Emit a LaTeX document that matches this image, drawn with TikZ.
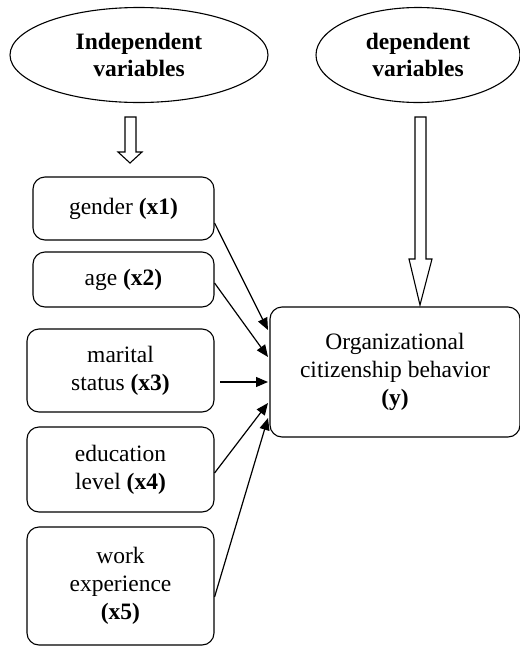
\documentclass[tikz,border=0pt]{standalone}
\usepackage{fontspec}
\setmainfont{Liberation Serif}
\usetikzlibrary{shapes.geometric,arrows.meta}
\begin{document}
\begin{tikzpicture}[x=1pt,y=-1pt,
  txt/.style={font=\fontsize{23.5}{28}\selectfont, align=center},
  oval/.style={draw, line width=1.1pt, ellipse, txt, font=\fontsize{23.5}{27}\selectfont\bfseries},
  rbox/.style={draw, line width=1.1pt, rounded corners=12pt, txt},
  link/.style={line width=1.2pt, -{Triangle[length=12pt,width=10pt]}},
  hollow/.style={draw, line width=1.1pt, fill=white, line join=miter}]
\useasboundingbox (0,0) rectangle (520,646);
\node[oval, minimum width=258pt, minimum height=95pt] (indep) at (139,55) {Independent\\variables};
\node[oval, minimum width=204pt, minimum height=95pt] (dep) at (418,55) {dependent\\variables};
% boxes
\node[rbox, minimum width=181pt, minimum height=63pt] (x1) at (123.5,208.5) {gender \textbf{(x1)}};
\node[rbox, minimum width=181pt, minimum height=55pt] (x2) at (123.5,279.5) {age \textbf{(x2)}};
\node[rbox, minimum width=187pt, minimum height=83pt] (x3) at (120.5,370.5) {marital\\status \textbf{(x3)}};
\node[rbox, minimum width=187pt, minimum height=85pt] (x4) at (120.5,469.5) {education\\level \textbf{(x4)}};
\node[rbox, minimum width=187pt, minimum height=118pt] (x5) at (120.5,586) {work\\experience\\\textbf{(x5)}};
\node[rbox, minimum width=250pt, minimum height=130pt] (y) at (395,372) {Organizational\\citizenship behavior\\\textbf{(y)}};
% target coordinates on left edge of y box
\coordinate (t1) at (268,330);
\coordinate (t2) at (268,357);
\coordinate (t3) at (268,382);
\coordinate (t4) at (268,403);
\coordinate (t5) at (268,418);
\draw[link] (x1.east |- 0,223) -- (t1);
\draw[link] (x2.east |- 0,283) -- (t2);
\draw[link] (220,382) -- (t3);
\draw[link] (x4.east |- 0,473) -- (t4);
\draw[link] (x5.east |- 0,597) -- (t5);
% hollow arrows
\draw[hollow] (125,117) -- (136,117) -- (136,152) -- (142,152) -- (130,163) -- (118,152) -- (125,152) -- cycle;
\draw[hollow] (415,117) -- (426,117) -- (426,259) -- (432,259) -- (420,305) -- (409,259) -- (415,259) -- cycle;
\end{tikzpicture}
\end{document}
